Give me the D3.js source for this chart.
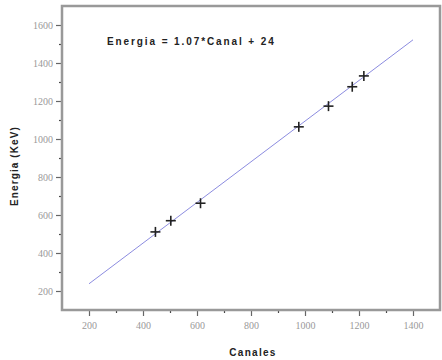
<!DOCTYPE html>
<html lang="es">
<head>
<meta charset="UTF-8">
<title>Calibración en energía</title>
<script src="https://d3js.org/d3.v7.min.js"></script>
<style>
  body { margin: 0; background: #fff; }
  svg { display: block; }
  .tick-label { font-family: "Liberation Serif", serif; font-size: 10px; fill: #999; }
  .axis-title { font-family: "Liberation Sans", Arial, sans-serif; font-size: 10px; font-weight: bold; fill: #222; }
</style>
</head>
<body>
<svg id="chart"></svg>
<script>
  // datos de calibración
  const canales = [446, 503, 613, 977, 1087, 1175, 1218];
  const energias = [511, 570, 662, 1064, 1173, 1275, 1332];
  const xTicks = [200, 400, 600, 800, 1000, 1200, 1400];
  const yTicks = [200, 400, 600, 800, 1000, 1200, 1400, 1600];
  const fitSlope = 1.07, fitOffset = 24;
  const fitRange = [200, 1400];

  const width = 442, height = 360;
  const margin = {top: 6, right: 2, bottom: 50, left: 62};

  const svg = d3.select("#chart").attr("width", width).attr("height", height);

  const x = d3.scaleLinear().domain([100, 1500]).range([margin.left, width - margin.right]);
  const y = d3.scaleLinear().domain([100, 1700]).range([height - margin.bottom, margin.top]);

  const minorX = d3.range(300, 1500, 200);
  const minorY = d3.range(300, 1700, 200);
  const axisColor = "#999";
  const fmt = d3.format("d");

  // ticks menores
  svg.append("g")
    .attr("transform", `translate(0,${height - margin.bottom})`)
    .call(d3.axisBottom(x).tickValues(minorX).tickSize(3).tickFormat(""))
    .call(g => g.select(".domain").remove())
    .call(g => g.selectAll("line").attr("stroke", "#444").attr("stroke-width", 1.2));
  svg.append("g")
    .attr("transform", `translate(${margin.left},0)`)
    .call(d3.axisLeft(y).tickValues(minorY).tickSize(3).tickFormat(""))
    .call(g => g.select(".domain").remove())
    .call(g => g.selectAll("line").attr("stroke", "#444").attr("stroke-width", 1.2));

  // ticks mayores
  svg.append("g")
    .attr("transform", `translate(0,${height - margin.bottom})`)
    .call(d3.axisBottom(x).tickValues(xTicks).tickSize(6).tickPadding(6).tickFormat(fmt))
    .call(g => g.select(".domain").remove())
    .call(g => g.selectAll("line").attr("stroke", "#666").attr("stroke-width", 1.2))
    .call(g => g.selectAll("text").attr("class", "tick-label").attr("font-size", null).attr("font-family", null).attr("fill", null));
  svg.append("g")
    .attr("transform", `translate(${margin.left},0)`)
    .call(d3.axisLeft(y).tickValues(yTicks).tickSize(6).tickPadding(3).tickFormat(fmt))
    .call(g => g.select(".domain").remove())
    .call(g => g.selectAll("line").attr("stroke", "#666").attr("stroke-width", 1.2))
    .call(g => g.selectAll("text").attr("class", "tick-label").attr("font-size", null).attr("font-family", null).attr("fill", null));

  // marco
  svg.append("rect")
    .attr("x", margin.left).attr("y", margin.top)
    .attr("width", width - margin.left - margin.right)
    .attr("height", height - margin.top - margin.bottom)
    .attr("fill", "none").attr("stroke", axisColor).attr("stroke-width", 2.5);

  // recta de ajuste
  svg.append("line")
    .attr("x1", x(fitRange[0])).attr("y1", y(fitSlope * fitRange[0] + fitOffset))
    .attr("x2", x(fitRange[1])).attr("y2", y(fitSlope * fitRange[1] + fitOffset))
    .attr("stroke", "#8c8ce0").attr("stroke-width", 1);

  // puntos
  const s = 5;
  const pts = svg.append("g").selectAll("g").data(canales).join("g")
    .attr("transform", (d, i) => `translate(${x(d)},${y(energias[i])})`);
  pts.append("line").attr("x1", -s).attr("x2", s).attr("stroke", "#222").attr("stroke-width", 1.6);
  pts.append("line").attr("y1", -s).attr("y2", s).attr("stroke", "#222").attr("stroke-width", 1.6);

  // anotación
  svg.append("text")
    .attr("class", "axis-title")
    .attr("x", 107).attr("y", 45)
    .attr("letter-spacing", "1.9px")
    .text("Energia = 1.07*Canal + 24");

  // títulos de ejes
  svg.append("text")
    .attr("class", "axis-title")
    .attr("text-anchor", "middle")
    .attr("x", 253).attr("y", 356)
    .attr("letter-spacing", "1.3px")
    .text("Canales");
  svg.append("text")
    .attr("class", "axis-title")
    .attr("text-anchor", "middle")
    .attr("transform", "translate(18,166) rotate(-90)")
    .attr("letter-spacing", "1.1px")
    .text("Energia (KeV)");
</script>
</body>
</html>
